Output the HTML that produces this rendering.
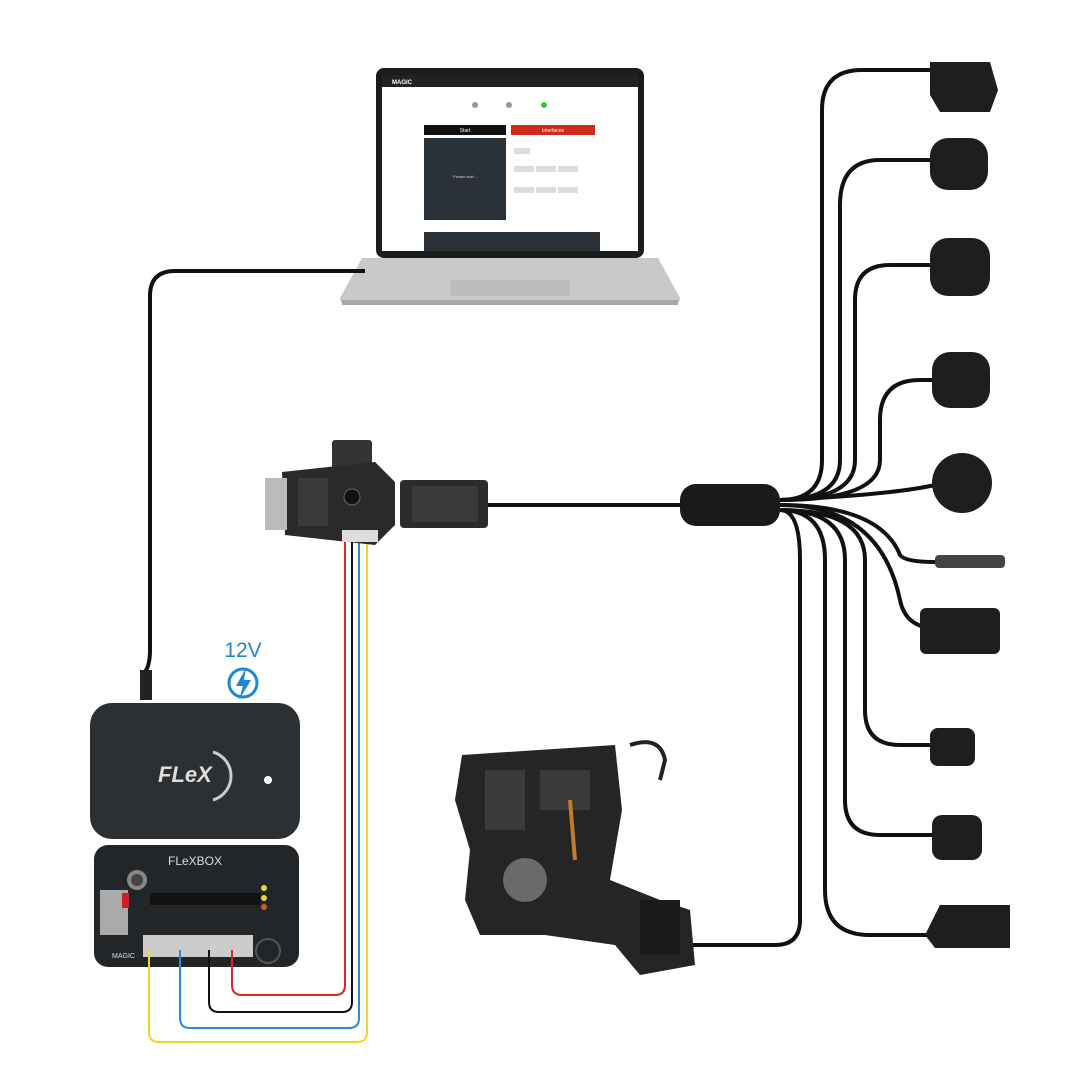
<!DOCTYPE html>
<html><head><meta charset="utf-8"><style>html,body{margin:0;padding:0;background:#fff}svg{display:block}</style></head><body>
<svg width="1080" height="1080" viewBox="0 0 1080 1080" xmlns="http://www.w3.org/2000/svg" font-family="Liberation Sans, sans-serif">
<rect width="1080" height="1080" fill="#fff"/>
<!-- laptop -->
<rect x="376" y="68" width="268" height="190" rx="8" fill="#1c1c1c"/>
<rect x="382" y="75" width="256" height="176" fill="#fff"/>
<rect x="382" y="75" width="256" height="12" fill="#222"/>
<text x="392" y="84" font-size="6" fill="#fff" font-weight="bold">MAGIC</text>
<rect x="424" y="125" width="82" height="10" fill="#111"/>
<text x="465" y="132" font-size="5" fill="#fff" text-anchor="middle">Start</text>
<rect x="511" y="125" width="84" height="10" fill="#d32a1e"/>
<text x="553" y="132" font-size="5" fill="#fff" text-anchor="middle">Interfaces</text>
<rect x="424" y="138" width="82" height="82" fill="#2b3138"/>
<text x="465" y="178" font-size="4" fill="#ccc" text-anchor="middle">Please wait...</text>
<rect x="514" y="148" width="16" height="6" fill="#ddd"/>
<rect x="514" y="166" width="20" height="6" fill="#ddd"/><rect x="536" y="166" width="20" height="6" fill="#ddd"/><rect x="558" y="166" width="20" height="6" fill="#ddd"/>
<rect x="514" y="187" width="20" height="6" fill="#ddd"/><rect x="536" y="187" width="20" height="6" fill="#ddd"/><rect x="558" y="187" width="20" height="6" fill="#ddd"/>
<rect x="424" y="232" width="176" height="19" fill="#2b3138"/>
<circle cx="475" cy="105" r="3" fill="#999"/><circle cx="509" cy="105" r="3" fill="#999"/><circle cx="544" cy="105" r="3" fill="#3c3"/>
<path d="M362 258 L658 258 L680 298 Q680 305 672 305 L348 305 Q340 305 340 298 Z" fill="#c9c9cb"/>
<rect x="450" y="280" width="120" height="16" rx="2" fill="#bdbdbf"/>
<rect x="342" y="300" width="336" height="5" fill="#a8a8aa"/>
<!-- laptop cable -->
<path d="M365 271 L175 271 Q150 271 150 296 L150 650 Q150 665 145 672 L145 690" fill="none" stroke="#111" stroke-width="4"/>
<rect x="140" y="670" width="12" height="30" fill="#222"/>
<!-- 12V -->
<text x="243" y="657" font-size="21" fill="#1e88d8" text-anchor="middle">12V</text>
<circle cx="243" cy="683" r="14" fill="none" stroke="#1e88d8" stroke-width="3"/>
<path d="M246 668 L236 686 L243 686 L239 700 L251 680 L244 680 Z" fill="#1e88d8"/>
<!-- flex top box -->
<rect x="90" y="703" width="210" height="136" rx="22" fill="#2c3033"/>
<text x="158" y="782" font-size="22" fill="#ddd" font-weight="bold" font-style="italic">FLeX</text>
<path d="M213 752 A25 25 0 0 1 213 800" fill="none" stroke="#ccc" stroke-width="3"/>
<circle cx="268" cy="780" r="4" fill="#fff"/>
<!-- flexbox bottom -->
<rect x="94" y="845" width="205" height="122" rx="14" fill="#232629"/>
<text x="195" y="865" font-size="12" fill="#ddd" text-anchor="middle">FLeXBOX</text>
<circle cx="137" cy="880" r="10" fill="#888"/><circle cx="137" cy="880" r="6" fill="#444"/>
<rect x="150" y="893" width="110" height="12" fill="#111"/>
<rect x="143" y="935" width="110" height="22" fill="#ccc"/>
<rect x="100" y="890" width="28" height="45" fill="#aaa"/>
<rect x="122" y="893" width="7" height="15" fill="#c22"/>
<circle cx="264" cy="888" r="3" fill="#dd3"/><circle cx="264" cy="898" r="3" fill="#dd3"/><circle cx="264" cy="907" r="3" fill="#d52"/>
<circle cx="268" cy="951" r="12" fill="none" stroke="#555" stroke-width="2"/>
<text x="112" y="958" font-size="7" fill="#ddd">MAGIC</text>
<!-- colored wires -->
<g fill="none" stroke-width="2">
<path d="M345 540 L345 985 Q345 995 335 995 L242 995 Q232 995 232 985 L232 950" stroke="#d42a22"/>
<path d="M352 540 L352 1002 Q352 1012 342 1012 L219 1012 Q209 1012 209 1002 L209 950" stroke="#111"/>
<path d="M359 540 L359 1018 Q359 1028 349 1028 L190 1028 Q180 1028 180 1018 L180 950" stroke="#2a8ad8"/>
<path d="M367 540 L367 1032 Q367 1042 357 1042 L159 1042 Q149 1042 149 1032 L149 950" stroke="#f0d820"/>
</g>
<!-- adapter -->
<rect x="332" y="440" width="40" height="30" rx="3" fill="#333"/>
<path d="M282 472 L375 462 L395 482 L395 525 L375 545 L285 535 Z" fill="#2a2a2a"/>
<rect x="265" y="478" width="22" height="52" fill="#bbb"/>
<rect x="298" y="478" width="30" height="48" fill="#3a3a3a"/>
<circle cx="352" cy="497" r="8" fill="#111" stroke="#666"/>
<rect x="342" y="530" width="36" height="12" fill="#ddd"/>
<rect x="400" y="480" width="88" height="48" rx="4" fill="#2b2b2b"/>
<rect x="412" y="486" width="66" height="36" fill="#3a3a3a"/>
<!-- main cable -->
<path d="M488 505 L685 505" stroke="#111" stroke-width="4"/>
<rect x="680" y="484" width="100" height="42" rx="16" fill="#1a1a1a"/>
<!-- fan cables -->
<g fill="none" stroke="#111" stroke-width="4">
<path d="M780 500 Q822 500 822 460 L822 110 Q822 70 862 70 L935 70"/>
<path d="M780 500 Q840 500 840 460 L840 205 Q840 160 880 160 L935 160"/>
<path d="M780 500 Q855 500 855 460 L855 300 Q855 265 890 265 L935 265"/>
<path d="M780 500 Q880 500 880 460 L880 420 Q880 380 920 380 L935 380"/>
<path d="M780 500 Q890 495 935 485"/>
<path d="M780 505 Q880 505 900 555 Q905 562 935 562"/>
<path d="M780 505 Q880 505 900 600 Q905 625 930 628"/>
<path d="M780 510 Q865 510 865 560 L865 710 Q865 745 900 745 L935 745"/>
<path d="M780 510 Q845 510 845 560 L845 800 Q845 835 880 835 L935 835"/>
<path d="M780 510 Q825 510 825 560 L825 890 Q825 935 870 935 L930 935"/>
<path d="M780 510 Q800 510 800 560 L800 920 Q800 945 775 945 L690 945"/>
</g>
<!-- connectors -->
<g fill="#1e1e1e">
<path d="M930 62 L990 62 L998 90 L990 112 L940 112 L930 95 Z"/>
<rect x="930" y="138" width="58" height="52" rx="18"/>
<rect x="930" y="238" width="60" height="58" rx="18"/>
<rect x="932" y="352" width="58" height="56" rx="18"/>
<circle cx="962" cy="483" r="30"/>
<rect x="935" y="555" width="70" height="13" rx="4" fill="#444"/>
<rect x="920" y="608" width="80" height="46" rx="6"/>
<rect x="930" y="728" width="45" height="38" rx="8"/>
<rect x="932" y="815" width="50" height="45" rx="10"/>
<path d="M925 935 L940 905 L1010 905 L1010 948 L935 948 Z"/>
</g>
<!-- mechatronic -->
<path d="M462 755 L615 745 L622 810 L610 880 L660 900 L690 910 L695 965 L640 975 L615 945 L545 935 L480 935 L465 900 L470 850 L455 800 Z" fill="#252525"/>
<path d="M630 745 Q660 735 665 760 L660 780" fill="none" stroke="#222" stroke-width="4"/>
<rect x="485" y="770" width="40" height="60" fill="#3a3a3a"/>
<rect x="540" y="770" width="50" height="40" fill="#3a3a3a"/>
<circle cx="525" cy="880" r="22" fill="#6a6a6a"/>
<path d="M570 800 L575 860" stroke="#c87a28" stroke-width="4"/>
<rect x="640" y="900" width="40" height="55" fill="#1a1a1a"/>
</svg>
</body></html>
